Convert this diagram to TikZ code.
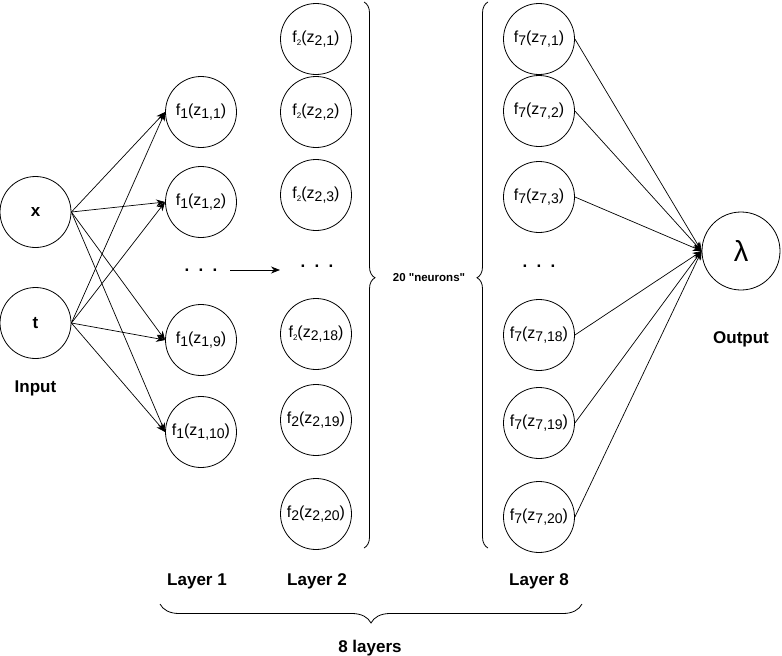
\documentclass[tikz,border=0pt]{standalone}
\usepackage{fontspec}
\setmainfont{Liberation Sans}[Ligatures=TeXOff]
\usetikzlibrary{arrows.meta,decorations.pathreplacing}

% lowered index text of a given size
\newcommand{\lowsub}[2]{\raisebox{-0.35ex}{\fontsize{#1}{#1}\selectfont #2}}
% activation label f_i(z_{i,j}); optional argument = size of the f index
\newcommand{\act}[3][14]{f\lowsub{#1}{#2}(z\lowsub{14}{#3})}
\newcommand{\vdotsrow}{.\hspace{9.3pt}.\hspace{9.3pt}.}

\begin{document}
\begin{tikzpicture}[x=1pt,y=-1pt,
  neuron/.style={circle, draw, line width=0.8pt, minimum size=71pt, inner sep=0pt,
                 font=\fontsize{16}{18}\selectfont},
  inneuron/.style={neuron, minimum size=71pt, font=\fontsize{17}{20}\selectfont\bfseries},
  outneuron/.style={neuron, minimum size=78pt, font=\fontsize{29}{32}\selectfont},
  caption/.style={font=\fontsize{17}{20}\selectfont\bfseries, anchor=base, inner sep=0pt},
  dotsrow/.style={font=\fontsize{17}{20}\selectfont\bfseries, inner sep=0pt},
  link/.style={-{Stealth[length=9pt,width=7pt]}, line width=0.7pt},
  bracket/.style={decorate, line width=0.8pt}]

\useasboundingbox (0,0) rectangle (782,656);

% input layer
\node[inneuron] (inx) at (35.5,212) {x};
\node[inneuron] (int) at (35.5,323) {t};
\node[caption] (inlab) at (35.5,392) {Input};

% layer 1
\node[neuron] (a1) at (201,112) {\act{1}{1,1}};
\node[neuron] (a2) at (201,202) {\act{1}{1,2}};
\node[dotsrow] (adots) at (201,270) {\vdotsrow};
\node[neuron] (a9) at (201,340) {\act{1}{1,9}};
\node[neuron] (a10) at (201,432) {\act{1}{1,10}};

% layer 2
\node[neuron] (b1) at (316,39) {\act[8]{2}{2,1}};
\node[neuron] (b2) at (316,112) {\act[8]{2}{2,2}};
\node[neuron] (b3) at (316,195) {\act[8]{2}{2,3}};
\node[dotsrow] (bdots) at (317,266) {\vdotsrow};
\node[neuron] (b18) at (316,334) {\act[8]{2}{2,18}};
\node[neuron] (b19) at (316,420) {\act{2}{2,19}};
\node[neuron] (b20) at (316,514) {\act{2}{2,20}};

% last hidden layer
\node[neuron] (c1) at (539,39) {\act{7}{7,1}};
\node[neuron] (c2) at (539,111) {\act{7}{7,2}};
\node[neuron] (c3) at (539,197) {\act{7}{7,3}};
\node[dotsrow] (cdots) at (539,266) {\vdotsrow};
\node[neuron] (c18) at (539,335) {\act{7}{7,18}};
\node[neuron] (c19) at (539,423) {\act{7}{7,19}};
\node[neuron] (c20) at (539,517) {\act{7}{7,20}};

% output
\node[outneuron] (lam) at (741,251) {λ};
\node[caption] (outlab) at (741,343) {Output};

% input -> layer 1
\foreach \s in {inx,int}
  \foreach \t in {a1,a2,a9,a10}
    \draw[link] (\s.east) -- (\t.west);

% layer 1 -> layer 2
\coordinate (fromdots) at (230,270);
\coordinate (todots) at (280,270);
\draw[link] (fromdots) -- (todots);

% last hidden layer -> output
\foreach \t in {c1,c2,c3,c18,c19,c20}
  \draw[link] (\t.east) -- (lam.west);

% width of the hidden layers
\coordinate (br1top) at (364,2);
\coordinate (br1bot) at (364,548);
\coordinate (br2top) at (488,2);
\coordinate (br2bot) at (488,548);
\draw[bracket, decoration={brace, amplitude=11pt, aspect=0.505}] (br1top) -- (br1bot);
\draw[bracket, decoration={brace, amplitude=11pt, aspect=0.495}] (br2bot) -- (br2top);
\node[font=\fontsize{11.5}{13}\selectfont\bfseries, anchor=base, inner sep=0pt] (width) at (429,281) {20 "neurons"};

% layer captions
\node[caption] (l1lab) at (197,585) {Layer 1};
\node[caption] (l2lab) at (317,585) {Layer 2};
\node[caption] (l8lab) at (539,585) {Layer 8};

% depth of the network
\coordinate (depL) at (160,604);
\coordinate (depR) at (582,604);
\draw[bracket, decoration={brace, amplitude=19pt}] (depR) -- (depL);
\node[caption] (deplab) at (370,652) {8 layers};

\end{tikzpicture}
\end{document}
